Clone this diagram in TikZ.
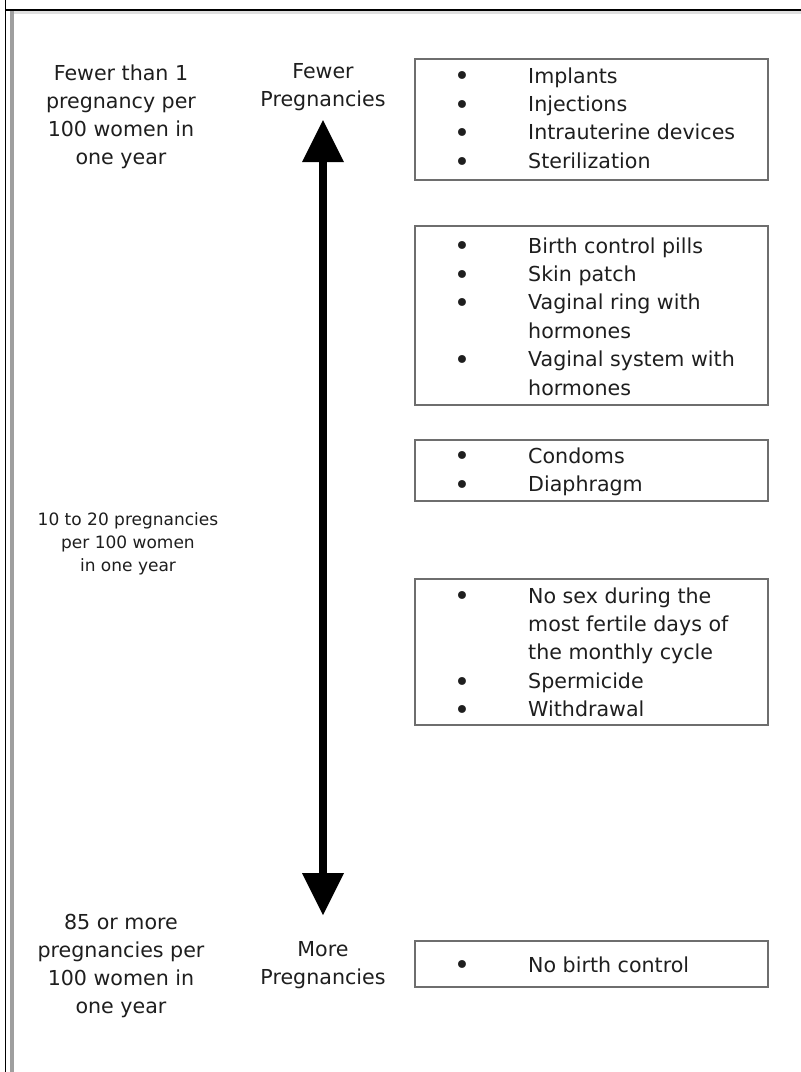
\documentclass[tikz,border=0pt]{standalone}
\usepackage{fontspec}
\setmainfont{DejaVu Sans}
\usetikzlibrary{arrows.meta}
\definecolor{ink}{HTML}{1E1E1E}
\definecolor{boxgray}{HTML}{6E6E6E}
\tikzset{
    lbl/.style={font=\fontsize{20.6}{28}\selectfont, text=ink, align=center, inner sep=0pt, anchor=north},
    smalllbl/.style={lbl, font=\fontsize{17}{22.8}\selectfont},
    items/.style={font=\fontsize{20.6}{28.4}\selectfont, text=ink, align=left, inner sep=0pt, anchor=north west},
    itemdot/.style={font=\fontsize{27}{28.4}\selectfont, text=ink, inner sep=0pt, anchor=center},
    listbox/.style={draw=boxgray, line width=1.3pt},
    scalearrow/.style={line width=8pt, {Triangle[width=42pt,length=42pt,line width=0pt]}-{Triangle[width=42pt,length=42pt,line width=0pt]}}
}
\begin{document}
\begin{tikzpicture}[x=1pt,y=-1pt]
    \useasboundingbox (0,0) rectangle (801,1072);
    \fill[white] (0,0) rectangle (801,1072);
    % window frame
    \draw[black, line width=1.5pt] (5.5,0) -- (5.5,1072);
    \fill[gray!25] (14,11) rectangle (801,13.5);
    \fill[gray!75] (10,11) rectangle (14,1072);
    \draw[black, line width=2pt] (6,10) -- (801,10);
    % side labels
    \node[lbl] (lowrate) at (121,64.3) {Fewer than 1\\pregnancy per\\100 women in\\one year};
    \node[smalllbl] (midrate) at (128,512.6) {10 to 20 pregnancies\\per 100 women\\in one year};
    \node[lbl] (highrate) at (121,914) {85 or more\\pregnancies per\\100 women in\\one year};
    \node[lbl] (fewer) at (323,63) {Fewer\\Pregnancies};
    \node[lbl] (more) at (323,941) {More\\Pregnancies};
    % scale arrow
    \coordinate (uptip) at (323,120);
    \coordinate (downtip) at (323,915);
    \draw[scalearrow] (uptip) -- (downtip);
    % method boxes
    \draw[listbox] (415,59) rectangle (768,180);
    \draw[listbox] (415,226) rectangle (768,405);
    \draw[listbox] (415,440) rectangle (768,501);
    \draw[listbox] (415,579) rectangle (768,725);
    \draw[listbox] (415,941) rectangle (768,987);
    \node[items] (longacting) at (528,67.3) {Implants\\Injections\\Intrauterine devices\\Sterilization};
    \node[items] (hormonal) at (528,237.3) {Birth control pills\\Skin patch\\Vaginal ring with\\hormones\\Vaginal system with\\hormones};
    \node[items] (barrier) at (528,447.3) {Condoms\\Diaphragm};
    \node[items] (behaviour) at (528,587.3) {No sex during the\\most fertile days of\\the monthly cycle\\Spermicide\\Withdrawal};
    \node[items] (nomethod) at (528,956.3) {No birth control};
    % bullets, one per item
    \foreach \y [count=\i] in {79,107.4,135.8,164.2,249,277.4,305.8,362.6,459,487.4,599,684.2,712.6,968}
        \node[itemdot] (dot\i) at (462,\y) {•};
\end{tikzpicture}
\end{document}
